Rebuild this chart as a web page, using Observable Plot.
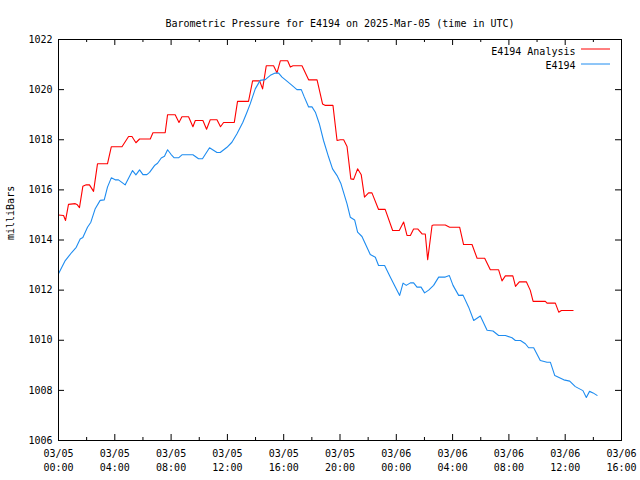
<!DOCTYPE html>
<html>
<head>
<meta charset="utf-8">
<script src="https://cdn.jsdelivr.net/npm/d3@7"></script>
<script src="https://cdn.jsdelivr.net/npm/@observablehq/plot@0.6"></script>
<style>
  html, body { margin: 0; padding: 0; background: #fff; }
  #chart { width: 640px; height: 480px; }
</style>
</head>
<body>
<div id="chart"></div>
<script>
// ---- Data (hours after 2025-03-05 00:00 UTC, pressure in milliBars) ----
const titleText = "Barometric Pressure for E4194 on 2025-Mar-05 (time in UTC)";
const yLabel = "milliBars";
const seriesNames = ["E4194 Analysis", "E4194"];

const analysisHours = [0, 0.36, 0.5, 0.71, 1.19, 1.31, 1.49, 1.73, 1.97, 2.2, 2.49, 2.77, 3.48, 3.75, 4.51, 4.98, 5.22, 5.5, 5.76, 6.52, 6.71, 7.58, 7.75, 8.29, 8.56, 8.77, 9.24, 9.55, 9.72, 10.26, 10.52, 10.78, 11.26, 11.51, 11.73, 12.49, 12.72, 13.5, 13.79, 14.29, 14.5, 14.76, 15.28, 15.52, 15.76, 16.28, 16.47, 16.66, 17.3, 17.77, 18.37, 18.76, 18.96, 19.5, 19.79, 20.02, 20.26, 20.5, 20.77, 20.97, 21.25, 21.51, 21.74, 22.03, 22.27, 22.74, 23.21, 23.74, 24.21, 24.52, 24.76, 25.0, 25.23, 25.52, 25.83, 26.06, 26.23, 26.54, 26.65, 27.48, 27.79, 28.5, 28.78, 29.38, 29.74, 30.28, 30.68, 31.27, 31.51, 31.75, 32.28, 32.47, 32.74, 33.24, 33.52, 33.72, 34.59, 34.71, 35.3, 35.54, 35.73, 36.56];
const analysisPressure = [1015.0, 1014.98, 1014.78, 1015.42, 1015.45, 1015.42, 1015.29, 1016.14, 1016.2, 1016.2, 1015.94, 1017.04, 1017.04, 1017.72, 1017.72, 1018.13, 1018.13, 1017.88, 1018.03, 1018.03, 1018.28, 1018.28, 1019.0, 1019.0, 1018.69, 1018.92, 1018.92, 1018.52, 1018.77, 1018.77, 1018.42, 1018.8, 1018.8, 1018.52, 1018.69, 1018.69, 1019.53, 1019.53, 1020.35, 1020.35, 1020.03, 1020.95, 1020.95, 1020.67, 1021.15, 1021.15, 1020.9, 1020.95, 1020.95, 1020.39, 1020.39, 1019.43, 1019.37, 1019.37, 1017.97, 1018.0, 1018.0, 1017.73, 1016.44, 1016.42, 1016.84, 1016.6, 1015.71, 1015.88, 1015.88, 1015.22, 1015.22, 1014.38, 1014.38, 1014.72, 1014.18, 1014.18, 1014.44, 1014.44, 1014.24, 1014.24, 1013.21, 1014.58, 1014.6, 1014.6, 1014.51, 1014.51, 1013.82, 1013.82, 1013.27, 1013.27, 1012.81, 1012.81, 1012.37, 1012.57, 1012.57, 1012.15, 1012.33, 1012.33, 1011.99, 1011.55, 1011.55, 1011.48, 1011.48, 1011.12, 1011.19, 1011.19];

const sensorHours = [0.0, 0.48, 0.95, 1.26, 1.54, 1.73, 2.06, 2.3, 2.61, 2.96, 3.25, 3.48, 3.75, 4.03, 4.26, 4.74, 5.26, 5.5, 5.76, 6.0, 6.28, 6.47, 6.82, 7.04, 7.3, 7.53, 7.75, 7.99, 8.22, 8.53, 8.77, 9.55, 9.95, 10.23, 10.73, 11.26, 11.49, 11.97, 12.32, 12.68, 13.1, 13.39, 13.62, 13.98, 14.33, 14.69, 15.05, 15.4, 15.64, 15.88, 16.23, 16.59, 16.94, 17.25, 17.46, 17.77, 18.01, 18.25, 18.53, 18.83, 19.19, 19.47, 19.79, 20.07, 20.5, 20.73, 21.04, 21.25, 21.56, 22.15, 22.51, 22.74, 23.17, 23.57, 23.93, 24.24, 24.48, 24.71, 25.0, 25.23, 25.47, 25.76, 26.01, 26.3, 26.65, 27.01, 27.48, 27.77, 28.03, 28.43, 28.74, 29.14, 29.5, 29.97, 30.45, 30.87, 31.27, 31.75, 32.22, 32.46, 32.82, 33.17, 33.4, 33.76, 34.23, 34.71, 34.95, 35.26, 35.9, 36.32, 36.72, 37.26, 37.5, 37.73, 37.98, 38.26];
const sensorPressure = [1012.65, 1013.18, 1013.51, 1013.71, 1014.04, 1014.1, 1014.51, 1014.71, 1015.25, 1015.58, 1015.6, 1016.11, 1016.48, 1016.4, 1016.4, 1016.2, 1016.77, 1016.6, 1016.8, 1016.61, 1016.61, 1016.7, 1016.97, 1017.06, 1017.27, 1017.34, 1017.6, 1017.42, 1017.28, 1017.28, 1017.4, 1017.4, 1017.24, 1017.24, 1017.68, 1017.49, 1017.49, 1017.7, 1017.9, 1018.24, 1018.7, 1019.1, 1019.43, 1020.03, 1020.37, 1020.4, 1020.57, 1020.66, 1020.66, 1020.5, 1020.34, 1020.17, 1020.0, 1020.0, 1019.71, 1019.31, 1019.31, 1019.1, 1018.64, 1017.97, 1017.31, 1016.84, 1016.57, 1016.24, 1015.44, 1014.91, 1014.8, 1014.31, 1014.14, 1013.42, 1013.31, 1012.98, 1012.98, 1012.52, 1012.12, 1011.79, 1012.28, 1012.19, 1012.29, 1012.29, 1012.12, 1012.12, 1011.89, 1012.0, 1012.19, 1012.52, 1012.52, 1012.58, 1012.19, 1011.79, 1011.8, 1011.32, 1010.79, 1010.97, 1010.4, 1010.37, 1010.19, 1010.19, 1010.1, 1009.99, 1009.99, 1009.86, 1009.7, 1009.7, 1009.19, 1009.12, 1009.12, 1008.59, 1008.42, 1008.37, 1008.15, 1007.99, 1007.72, 1007.96, 1007.9, 1007.8];

const yTicks = [1006, 1008, 1010, 1012, 1014, 1016, 1018, 1020, 1022];
const xMajorTickHours = [0, 4, 8, 12, 16, 20, 24, 28, 32, 36, 40];
const xMinorTickHours = [2, 6, 10, 14, 18, 22, 26, 30, 34, 38];
const xTickLabels = ["03/05\n00:00", "03/05\n04:00", "03/05\n08:00", "03/05\n12:00", "03/05\n16:00", "03/05\n20:00",
                     "03/06\n00:00", "03/06\n04:00", "03/06\n08:00", "03/06\n12:00", "03/06\n16:00"];

// ---- Build ----
const t0 = Date.UTC(2025, 2, 5, 0, 0);
const toDate = h => new Date(t0 + h * 3600e3);
const analysis = analysisHours.map((h, i) => ({time: toDate(h), p: analysisPressure[i]}));
const sensor = sensorHours.map((h, i) => ({time: toDate(h), p: sensorPressure[i]}));
const xMajor = xMajorTickHours.map(toDate);
const xMinor = xMinorTickHours.map(toDate);
const labelOf = new Map(xMajor.map((d, i) => [+d, xTickLabels[i]]));

const W = 640, H = 480, mL = 58, mR = 19, mT = 39, mB = 40;
const pw = W - mL - mR, ph = H - mT - mB;
const RED = "#ff0000", BLUE = "#1e8cf0";

const chart = Plot.plot({
  width: W, height: H,
  marginLeft: mL, marginRight: mR, marginTop: mT, marginBottom: mB,
  style: {fontFamily: "'DejaVu Sans Mono', monospace", fontSize: "10px", background: "#fff", color: "#000"},
  x: {type: "utc", domain: [toDate(0), toDate(40)]},
  y: {domain: [1006, 1022]},
  marks: [
    Plot.axisX(xMajor, {tickSize: 0, tickPadding: 7, tickFormat: d => labelOf.get(+d), lineHeight: 1.4, fontSize: 10, label: null}),
    Plot.axisY(yTicks, {tickSize: 0, tickPadding: 6, tickFormat: d => String(d), fontSize: 10, label: null}),
    // inward ticks (gnuplot style, mirrored)
    Plot.tickX(xMajor, {x: d => d, insetTop: ph - 6, stroke: "#000"}),
    Plot.tickX(xMajor, {x: d => d, insetBottom: ph - 6, stroke: "#000"}),
    Plot.tickX(xMinor, {x: d => d, insetTop: ph - 3, stroke: "#000"}),
    Plot.tickX(xMinor, {x: d => d, insetBottom: ph - 3, stroke: "#000"}),
    Plot.tickY(yTicks, {y: d => d, insetRight: pw - 6, stroke: "#000"}),
    Plot.tickY(yTicks, {y: d => d, insetLeft: pw - 6, stroke: "#000"}),
    Plot.line(analysis, {x: "time", y: "p", stroke: RED, strokeWidth: 1.1}),
    Plot.line(sensor, {x: "time", y: "p", stroke: BLUE, strokeWidth: 1.1}),
    Plot.frame({stroke: "#000"}),
    // title and y label
    Plot.text([titleText], {frameAnchor: "top", dy: -20, fontSize: 10}),
    Plot.text([yLabel], {frameAnchor: "left", dx: -48, rotate: -90, fontSize: 10}),
    // legend
    Plot.text([seriesNames[0]], {frameAnchor: "top-right", dx: -46, dy: 8, textAnchor: "end", fontSize: 10}),
    Plot.text([seriesNames[1]], {frameAnchor: "top-right", dx: -46, dy: 22, textAnchor: "end", fontSize: 10}),
    Plot.ruleY([0], {y: null, insetLeft: 523, insetRight: 11, dy: -(mT + H - mB) / 2 + 48.5, stroke: RED}),
    Plot.ruleY([0], {y: null, insetLeft: 523, insetRight: 11, dy: -(mT + H - mB) / 2 + 63.5, stroke: BLUE})
  ]
});
document.getElementById("chart").appendChild(chart);
</script>
</body>
</html>
